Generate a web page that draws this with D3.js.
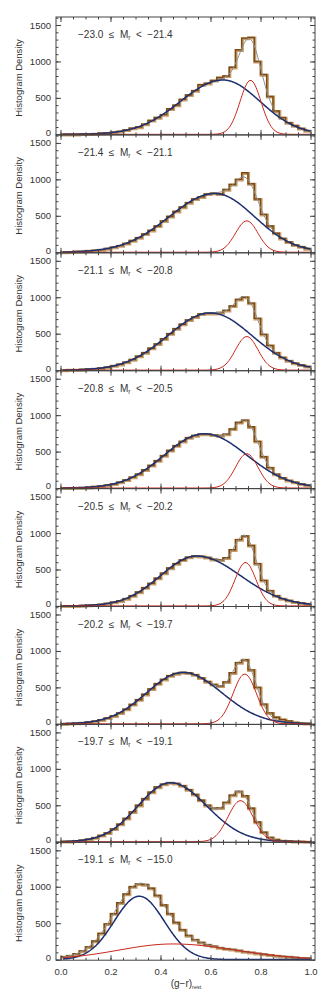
<!DOCTYPE html>
<html>
<head>
<meta charset="utf-8">
<script src="https://cdn.jsdelivr.net/npm/d3@7"></script>
<style>
body { margin: 0; background: #fff; }
text { font-family: "Liberation Sans", Arial, sans-serif; fill: #333; }
</style>
</head>
<body>
<script>
// magnitude bins, one panel each
var magLo = ["−23.0", "−21.4", "−21.1", "−20.8", "−20.5", "−20.2", "−19.7", "−19.1"];
var magHi = ["−21.4", "−21.1", "−20.8", "−20.5", "−20.2", "−19.7", "−19.1", "−15.0"];

// histogram counts, bins of 0.025 in (g-r) from 0.0 to 1.0
var binWidth = 0.025;
var hist1 = [0,0,0,5,5,10,15,20,30,40, 60,85,100,140,190,230,270,350,400,480, 540,600,680,700,740,780,800,920,1160,1320, 1330,1000,820,520,320,230,160,120,80,50];
var hist2 = [0,5,10,10,20,25,35,50,70,90, 120,160,200,250,300,360,430,490,560,620, 680,730,760,800,810,800,860,930,1000,1090, 940,730,520,360,260,190,140,100,75,50];
var hist3 = [0,5,5,10,15,20,30,40,60,80, 110,145,190,240,300,360,430,500,570,630, 690,730,770,780,780,790,820,880,970,1000, 920,710,490,340,240,175,130,95,70,50];
var hist4 = [0,0,5,5,10,20,30,40,55,80, 110,150,190,250,310,375,445,515,580,640, 690,720,740,740,730,720,740,810,900,930, 840,640,430,280,190,140,105,80,55,40];
var hist5 = [0,0,0,5,10,15,20,35,50,70, 100,140,190,250,310,380,450,520,580,630, 670,685,680,665,640,630,660,770,910,960, 830,580,350,210,140,100,75,55,40,30];
var hist6 = [0,5,10,15,25,35,55,80,110,150, 200,265,330,405,480,550,610,660,690,705, 700,675,630,580,540,520,575,700,840,880, 740,500,270,150,90,60,40,20,10,5];
var hist7 = [5,5,10,20,35,55,85,120,175,240, 320,410,500,590,680,750,790,810,800,770, 715,650,570,500,460,465,540,640,690,630, 460,270,130,60,30,15,10,5,5,0];
var hist8 = [40,55,80,120,175,255,360,490,630,780, 900,1000,1040,1030,980,880,750,630,510,410, 330,275,235,205,185,165,150,140,125,110, 100,85,75,65,55,45,40,30,25,20];
var hists = [hist1, hist2, hist3, hist4, hist5, hist6, hist7, hist8];

// fitted components (blue = blue cloud, red = red sequence), split gaussians
var blueMu   = [0.650, 0.618, 0.600, 0.575, 0.545, 0.490, 0.440, 0.315];
var blueSigL = [0.170, 0.183, 0.170, 0.160, 0.145, 0.145, 0.130, 0.100];
var blueSigR = [0.148, 0.158, 0.165, 0.170, 0.175, 0.155, 0.145, 0.100];
var blueAmp  = [745, 805, 785, 745, 685, 705, 810, 870];
var redMu    = [0.760, 0.745, 0.745, 0.745, 0.740, 0.737, 0.720, 0.450];
var redSigL  = [0.042, 0.045, 0.045, 0.045, 0.042, 0.047, 0.050, 0.217];
var redSigR  = [0.042, 0.045, 0.045, 0.045, 0.042, 0.047, 0.050, 0.250];
var redAmp   = [740, 430, 460, 470, 595, 682, 563, 215];

var xTicks = [0, 0.2, 0.4, 0.6, 0.8, 1.0];
var yTicks = [0, 500, 1000, 1500];

var W = 332, H = 997;
var padL = 56, padR = 315, padT = 17, panelH = 117.9;

var svg = d3.select("body").append("svg")
    .attr("width", W)
    .attr("height", H);

var x = d3.scaleLinear().domain([-0.018, 1.018]).range([padL, padR]);

function gauss(v, mu, sl, sr, a) {
    var s = v < mu ? sl : sr;
    return a * Math.exp(-(v - mu) * (v - mu) / (2 * s * s));
}

var xs = d3.range(0.01, 1.0001, 0.004);
var xMinor = d3.range(0, 1.0001, 0.05);
var yMinor = d3.range(0, 1601, 100);

for (var i = 0; i < 8; i++) {
    var y0 = padT + i * panelH;
    var y = d3.scaleLinear().domain([-8, 1610]).range([y0 + panelH, y0]);
    var g = svg.append("g");

    var h = hists[i];
    var pts = h.map(function (v, k) { return [k * binWidth, v]; });
    pts.push([h.length * binWidth, h[h.length - 1]]);
    var step = d3.line()
        .x(function (d) { return x(d[0]); })
        .y(function (d) { return y(d[1]); })
        .curve(d3.curveStepAfter);

    g.append("path").attr("d", step(pts))
        .attr("fill", "none").attr("stroke", "#c49d6c").attr("stroke-width", 3)
        .attr("transform", "translate(0.6,0.6)");
    g.append("path").attr("d", step(pts))
        .attr("fill", "none").attr("stroke", "#7a4810").attr("stroke-width", 1.4);

    var line = d3.line()
        .x(function (d) { return x(d[0]); })
        .y(function (d) { return y(d[1]); });

    var bl = xs.map(function (v) { return [v, gauss(v, blueMu[i], blueSigL[i], blueSigR[i], blueAmp[i])]; });
    var rd = xs.map(function (v) { return [v, gauss(v, redMu[i], redSigL[i], redSigR[i], redAmp[i])]; });
    var tot = bl.map(function (d, k) { return [d[0], d[1] + rd[k][1]]; });

    g.append("path").attr("d", line(tot))
        .attr("fill", "none").attr("stroke", "#8e8e8e").attr("stroke-width", 1);
    g.append("path").attr("d", line(bl))
        .attr("fill", "none").attr("stroke", "#1e2f70").attr("stroke-width", 1.5);
    g.append("path").attr("d", line(rd))
        .attr("fill", "none").attr("stroke", "#c8281c").attr("stroke-width", 1);

    // axes, ticks pointing inward on all four sides
    var yl = g.append("g").attr("transform", "translate(" + padL + ",0)")
        .call(d3.axisLeft(y).tickValues(yTicks).tickSizeInner(0).tickSizeOuter(0).tickPadding(5)
            .tickFormat(d3.format("d")));
    yl.selectAll(".tick text").attr("dy", function (d) { return d === 0 ? "0.1em" : "0.32em"; });
    g.append("g").attr("transform", "translate(" + padL + ",0)")
        .call(d3.axisLeft(y).tickValues(yTicks).tickSizeInner(-5).tickSizeOuter(0).tickFormat(""));
    g.append("g").attr("transform", "translate(" + padL + ",0)")
        .call(d3.axisLeft(y).tickValues(yMinor).tickSizeInner(-2.5).tickSizeOuter(0).tickFormat(""));
    g.append("g").attr("transform", "translate(" + padR + ",0)")
        .call(d3.axisRight(y).tickValues(yTicks).tickSizeInner(-5).tickSizeOuter(0).tickFormat(""));
    g.append("g").attr("transform", "translate(" + padR + ",0)")
        .call(d3.axisRight(y).tickValues(yMinor).tickSizeInner(-2.5).tickSizeOuter(0).tickFormat(""));
    g.append("g").attr("transform", "translate(0," + (y0 + panelH) + ")")
        .call(d3.axisBottom(x).tickValues(xTicks).tickSizeInner(-5).tickSizeOuter(0).tickPadding(8)
            .tickFormat(i === 7 ? d3.format(".1f") : ""));
    g.append("g").attr("transform", "translate(0," + (y0 + panelH) + ")")
        .call(d3.axisBottom(x).tickValues(xMinor).tickSizeInner(-2.5).tickSizeOuter(0).tickFormat(""));
    g.append("g").attr("transform", "translate(0," + y0 + ")")
        .call(d3.axisTop(x).tickValues(xTicks).tickSizeInner(-5).tickSizeOuter(0).tickFormat(""));
    g.append("g").attr("transform", "translate(0," + y0 + ")")
        .call(d3.axisTop(x).tickValues(xMinor).tickSizeInner(-2.5).tickSizeOuter(0).tickFormat(""));

    g.selectAll(".domain").remove();
    g.selectAll(".tick line").attr("stroke", "#444");
    g.selectAll(".tick text").attr("font-size", 9.5).attr("fill", "#333")
        .attr("font-family", "Liberation Sans, Arial, sans-serif");

    g.append("rect")
        .attr("x", padL).attr("y", y0)
        .attr("width", padR - padL).attr("height", panelH)
        .attr("fill", "none").attr("stroke", "#444").attr("stroke-width", 1);

    // y title
    g.append("text")
        .attr("transform", "translate(22," + (y0 + panelH / 2 + 2) + ") rotate(-90)")
        .attr("text-anchor", "middle")
        .attr("font-size", 9.5)
        .text("Histogram Density");

    // magnitude range label
    var lab = g.append("text")
        .attr("x", 78).attr("y", y0 + 21)
        .attr("font-size", 10)
        .style("white-space", "pre");
    lab.append("tspan").text(magLo[i] + "  \u2264  M");
    lab.append("tspan").attr("font-size", 6.5).attr("dy", 2).text("r");
    lab.append("tspan").attr("dy", -2).text("  <  " + magHi[i]);
}

// x title
var xt = svg.append("text")
    .attr("x", 186).attr("y", 987)
    .attr("text-anchor", "middle")
    .attr("font-size", 10);
xt.append("tspan").text("(g\u2212r)");
xt.append("tspan").attr("font-size", 5.5).attr("dy", 2).text("rest");
</script>
</body>
</html>
